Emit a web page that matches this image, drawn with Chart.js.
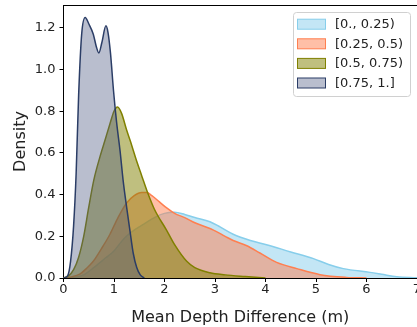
<!DOCTYPE html>
<html>
<head>
<meta charset="utf-8">
<script src="https://cdn.jsdelivr.net/npm/chart.js@4"></script>
<style>
  html, body { margin: 0; padding: 0; background: #fff; }
  #wrap { width: 417px; height: 327px; overflow: hidden; position: relative; }
  canvas { display: block; }
</style>
</head>
<body>
<div id="wrap"><canvas id="myChart" width="440" height="327"></canvas></div>
<script>
// depth-difference bins (legend)
const seriesLabels = ['[0., 0.25)', '[0.25, 0.5)', '[0.5, 0.75)', '[0.75, 1.]'];

// density curves
const blueX = [0, 0.2, 0.4, 0.6, 0.8, 1.0, 1.2, 1.4, 1.6, 1.8, 2.0, 2.2, 2.4, 2.6, 2.9, 3.1, 3.36, 3.7, 4.02, 4.5, 4.95, 5.25, 5.54, 6.07, 6.3, 6.6, 7.0];
const blueY = [0, 0.003, 0.015, 0.05, 0.09, 0.13, 0.19, 0.23, 0.26, 0.29, 0.31, 0.315, 0.305, 0.29, 0.27, 0.245, 0.21, 0.18, 0.16, 0.125, 0.093, 0.065, 0.045, 0.027, 0.018, 0.006, 0.001];

const orangeX = [0, 0.15, 0.33, 0.45, 0.59, 0.75, 0.92, 1.08, 1.25, 1.4, 1.55, 1.65, 1.75, 1.9, 2.05, 2.2, 2.4, 2.6, 2.97, 3.2, 3.36, 3.63, 3.89, 4.22, 4.62, 5.08, 5.6, 6.0];
const orangeY = [0, 0.005, 0.02, 0.045, 0.08, 0.14, 0.21, 0.29, 0.36, 0.395, 0.41, 0.41, 0.395, 0.365, 0.335, 0.31, 0.29, 0.265, 0.23, 0.2, 0.18, 0.155, 0.12, 0.075, 0.045, 0.016, 0.003, 0];

const oliveX = [0, 0.1, 0.2, 0.3, 0.4, 0.5, 0.6, 0.72, 0.82, 0.92, 1.0, 1.07, 1.15, 1.25, 1.32, 1.45, 1.55, 1.65, 1.8, 2.04, 2.2, 2.44, 2.6, 2.9, 3.2, 3.6, 4.0];
const oliveY = [0, 0.01, 0.04, 0.1, 0.2, 0.34, 0.47, 0.58, 0.66, 0.74, 0.8, 0.82, 0.79, 0.71, 0.66, 0.56, 0.49, 0.42, 0.33, 0.23, 0.16, 0.08, 0.05, 0.025, 0.015, 0.007, 0];

const navyX = [0, 0.08, 0.14, 0.2, 0.25, 0.3, 0.36, 0.43, 0.5, 0.59, 0.65, 0.7, 0.76, 0.84, 0.88, 0.93, 0.99, 1.05, 1.12, 1.18, 1.25, 1.32, 1.38, 1.45, 1.52, 1.6];
const navyY = [0, 0.01, 0.08, 0.25, 0.5, 0.88, 1.17, 1.25, 1.22, 1.17, 1.11, 1.08, 1.13, 1.21, 1.18, 1.08, 0.9, 0.75, 0.61, 0.47, 0.34, 0.22, 0.12, 0.05, 0.015, 0];

const xTicks = [0, 1, 2, 3, 4, 5, 6, 7];
const yTicks = [0, 0.2, 0.4, 0.6, 0.8, 1.0, 1.2];

const lineColors = ['rgb(135,206,235)', 'rgb(255,127,80)', 'rgb(128,128,0)', 'rgb(43,61,102)'];
const fillColors = ['rgba(135,206,235,0.5)', 'rgba(255,127,80,0.5)', 'rgba(128,128,0,0.5)', 'rgba(70,85,125,0.38)'];

function pts(xs, ys) {
  return xs.map((x, i) => ({ x: x, y: ys[i] }));
}

const allX = [blueX, orangeX, oliveX, navyX];
const allY = [blueY, orangeY, oliveY, navyY];

const datasets = seriesLabels.map((lab, i) => ({
  label: lab,
  data: pts(allX[i], allY[i]),
  borderColor: lineColors[i],
  backgroundColor: fillColors[i],
  borderWidth: 1.5,
  pointRadius: 0,
  fill: 'origin',
  cubicInterpolationMode: 'monotone',
  order: 4 - i
}));

// box legend in the top right corner + top spine
const boxLegend = {
  id: 'boxLegend',
  afterDraw(chart) {
    const ctx = chart.ctx;
    const a = chart.chartArea;
    ctx.save();
    ctx.strokeStyle = '#000';
    ctx.lineWidth = 1;
    ctx.beginPath();
    ctx.moveTo(a.left, a.top + 0.5);
    ctx.lineTo(a.right, a.top + 0.5);
    ctx.stroke();

    const bx = 293.5, by = 12.5, bw = 117, bh = 84;
    ctx.fillStyle = 'rgba(255,255,255,0.8)';
    ctx.strokeStyle = '#d0d0d0';
    ctx.beginPath();
    ctx.roundRect(bx, by, bw, bh, 3);
    ctx.fill();
    ctx.stroke();

    ctx.font = '13px "DejaVu Sans"';
    ctx.textBaseline = 'middle';
    for (let i = 0; i < seriesLabels.length; i++) {
      const cy = 24.2 + i * 19.6;
      ctx.fillStyle = fillColors[i];
      ctx.fillRect(297.5, cy - 5, 28, 10);
      ctx.strokeStyle = lineColors[i];
      ctx.strokeRect(297.5, cy - 5, 28, 10);
      ctx.fillStyle = '#222';
      ctx.fillText(seriesLabels[i], 335, cy + 0.5);
    }
    ctx.restore();
  }
};

const ctx = document.getElementById('myChart').getContext('2d');
const myChart = new Chart(ctx, {
  type: 'line',
  data: { datasets: datasets },
  options: {
    responsive: false,
    animation: false,
    devicePixelRatio: 1,
    layout: { padding: { top: 5, right: 23, bottom: 0, left: 0 } },
    plugins: { legend: { display: false }, tooltip: { enabled: false } },
    scales: {
      x: {
        type: 'linear',
        min: 0,
        max: 7,
        afterBuildTicks: s => { s.ticks = xTicks.map(v => ({ value: v })); },
        afterFit: s => { s.height = 49; s.paddingLeft = 0; s.paddingRight = 0; },
        grid: { drawOnChartArea: false, tickLength: 4, color: '#000' },
        border: { color: '#000' },
        ticks: { padding: 0, color: '#222', font: { family: 'DejaVu Sans', size: 13 }, callback: v => String(v) },
        title: { display: true, text: 'Mean Depth Difference (m)', color: '#222', font: { family: 'DejaVu Sans', size: 16 }, padding: { top: 0, bottom: 0 } }
      },
      y: {
        min: 0,
        max: 1.31,
        afterBuildTicks: s => { s.ticks = yTicks.map(v => ({ value: v })); },
        afterFit: s => { s.width = 63.5; s.paddingTop = 0; s.paddingBottom = 0; },
        grid: { drawOnChartArea: false, tickLength: 4, color: '#000' },
        border: { color: '#000' },
        ticks: { padding: 4, color: '#222', font: { family: 'DejaVu Sans', size: 13 }, callback: v => v.toFixed(1) },
        title: { display: true, text: 'Density', color: '#222', font: { family: 'DejaVu Sans', size: 16 }, padding: { top: 11, bottom: 0 } }
      }
    }
  },
  plugins: [boxLegend]
});
</script>
</body>
</html>
